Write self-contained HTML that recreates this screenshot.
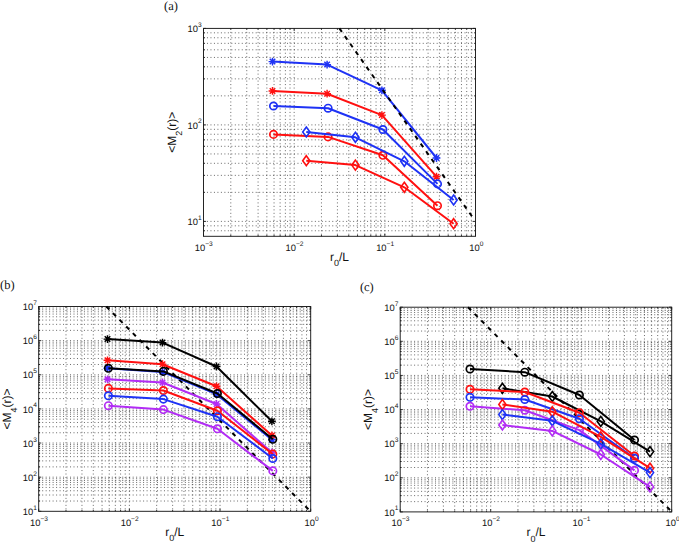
<!DOCTYPE html>
<html><head><meta charset="utf-8"><style>
html,body{margin:0;padding:0;background:#fff;}
body{width:679px;height:544px;overflow:hidden;}
svg{display:block;}
</style></head><body>
<svg width="679" height="544" viewBox="0 0 679 544">
<rect width="679" height="544" fill="#fff"/>
<g font-family="'Liberation Sans', sans-serif" fill="#111" text-rendering="geometricPrecision">
<g stroke="#2a2a2a" stroke-width="0.7" stroke-dasharray="1 2.48" fill="none"><line x1="230.79" y1="28.4" x2="230.79" y2="236.3"/><line x1="246.76" y1="28.4" x2="246.76" y2="236.3"/><line x1="258.09" y1="28.4" x2="258.09" y2="236.3"/><line x1="266.87" y1="28.4" x2="266.87" y2="236.3"/><line x1="274.05" y1="28.4" x2="274.05" y2="236.3"/><line x1="280.12" y1="28.4" x2="280.12" y2="236.3"/><line x1="285.38" y1="28.4" x2="285.38" y2="236.3"/><line x1="290.02" y1="28.4" x2="290.02" y2="236.3"/><line x1="294.17" y1="28.4" x2="294.17" y2="236.3"/><line x1="321.46" y1="28.4" x2="321.46" y2="236.3"/><line x1="337.43" y1="28.4" x2="337.43" y2="236.3"/><line x1="348.75" y1="28.4" x2="348.75" y2="236.3"/><line x1="357.54" y1="28.4" x2="357.54" y2="236.3"/><line x1="364.72" y1="28.4" x2="364.72" y2="236.3"/><line x1="370.79" y1="28.4" x2="370.79" y2="236.3"/><line x1="376.05" y1="28.4" x2="376.05" y2="236.3"/><line x1="380.68" y1="28.4" x2="380.68" y2="236.3"/><line x1="384.83" y1="28.4" x2="384.83" y2="236.3"/><line x1="412.13" y1="28.4" x2="412.13" y2="236.3"/><line x1="428.09" y1="28.4" x2="428.09" y2="236.3"/><line x1="439.42" y1="28.4" x2="439.42" y2="236.3"/><line x1="448.21" y1="28.4" x2="448.21" y2="236.3"/><line x1="455.39" y1="28.4" x2="455.39" y2="236.3"/><line x1="461.46" y1="28.4" x2="461.46" y2="236.3"/><line x1="466.71" y1="28.4" x2="466.71" y2="236.3"/><line x1="471.35" y1="28.4" x2="471.35" y2="236.3"/><line x1="203.5" y1="230.75" x2="475.5" y2="230.75"/><line x1="203.5" y1="225.82" x2="475.5" y2="225.82"/><line x1="203.5" y1="221.4" x2="475.5" y2="221.4"/><line x1="203.5" y1="192.35" x2="475.5" y2="192.35"/><line x1="203.5" y1="175.36" x2="475.5" y2="175.36"/><line x1="203.5" y1="163.3" x2="475.5" y2="163.3"/><line x1="203.5" y1="153.95" x2="475.5" y2="153.95"/><line x1="203.5" y1="146.31" x2="475.5" y2="146.31"/><line x1="203.5" y1="139.85" x2="475.5" y2="139.85"/><line x1="203.5" y1="134.25" x2="475.5" y2="134.25"/><line x1="203.5" y1="129.32" x2="475.5" y2="129.32"/><line x1="203.5" y1="124.9" x2="475.5" y2="124.9"/><line x1="203.5" y1="95.85" x2="475.5" y2="95.85"/><line x1="203.5" y1="78.86" x2="475.5" y2="78.86"/><line x1="203.5" y1="66.8" x2="475.5" y2="66.8"/><line x1="203.5" y1="57.45" x2="475.5" y2="57.45"/><line x1="203.5" y1="49.81" x2="475.5" y2="49.81"/><line x1="203.5" y1="43.35" x2="475.5" y2="43.35"/><line x1="203.5" y1="37.75" x2="475.5" y2="37.75"/><line x1="203.5" y1="32.82" x2="475.5" y2="32.82"/></g>
<path d="M203.5 236.3v-2.6M203.5 28.4v2.6M230.79 236.3v-1.4M230.79 28.4v1.4M246.76 236.3v-1.4M246.76 28.4v1.4M258.09 236.3v-1.4M258.09 28.4v1.4M266.87 236.3v-1.4M266.87 28.4v1.4M274.05 236.3v-1.4M274.05 28.4v1.4M280.12 236.3v-1.4M280.12 28.4v1.4M285.38 236.3v-1.4M285.38 28.4v1.4M290.02 236.3v-1.4M290.02 28.4v1.4M294.17 236.3v-2.6M294.17 28.4v2.6M321.46 236.3v-1.4M321.46 28.4v1.4M337.43 236.3v-1.4M337.43 28.4v1.4M348.75 236.3v-1.4M348.75 28.4v1.4M357.54 236.3v-1.4M357.54 28.4v1.4M364.72 236.3v-1.4M364.72 28.4v1.4M370.79 236.3v-1.4M370.79 28.4v1.4M376.05 236.3v-1.4M376.05 28.4v1.4M380.68 236.3v-1.4M380.68 28.4v1.4M384.83 236.3v-2.6M384.83 28.4v2.6M412.13 236.3v-1.4M412.13 28.4v1.4M428.09 236.3v-1.4M428.09 28.4v1.4M439.42 236.3v-1.4M439.42 28.4v1.4M448.21 236.3v-1.4M448.21 28.4v1.4M455.39 236.3v-1.4M455.39 28.4v1.4M461.46 236.3v-1.4M461.46 28.4v1.4M466.71 236.3v-1.4M466.71 28.4v1.4M471.35 236.3v-1.4M471.35 28.4v1.4M475.5 236.3v-2.6M475.5 28.4v2.6M203.5 230.75h1.4M475.5 230.75h-1.4M203.5 225.82h1.4M475.5 225.82h-1.4M203.5 221.4h2.6M475.5 221.4h-2.6M203.5 192.35h1.4M475.5 192.35h-1.4M203.5 175.36h1.4M475.5 175.36h-1.4M203.5 163.3h1.4M475.5 163.3h-1.4M203.5 153.95h1.4M475.5 153.95h-1.4M203.5 146.31h1.4M475.5 146.31h-1.4M203.5 139.85h1.4M475.5 139.85h-1.4M203.5 134.25h1.4M475.5 134.25h-1.4M203.5 129.32h1.4M475.5 129.32h-1.4M203.5 124.9h2.6M475.5 124.9h-2.6M203.5 95.85h1.4M475.5 95.85h-1.4M203.5 78.86h1.4M475.5 78.86h-1.4M203.5 66.8h1.4M475.5 66.8h-1.4M203.5 57.45h1.4M475.5 57.45h-1.4M203.5 49.81h1.4M475.5 49.81h-1.4M203.5 43.35h1.4M475.5 43.35h-1.4M203.5 37.75h1.4M475.5 37.75h-1.4M203.5 32.82h1.4M475.5 32.82h-1.4M203.5 28.4h2.6M475.5 28.4h-2.6" stroke="#000" stroke-width="0.8" fill="none"/>
<rect x="203.5" y="28.4" width="272" height="207.9" fill="none" stroke="#1a1a1a" stroke-width="0.95"/>
<text x="203.8" y="250.6" text-anchor="middle" font-size="9.4">10<tspan dy="-5.0" font-size="6.6">&#8722;3</tspan></text>
<text x="294.47" y="250.6" text-anchor="middle" font-size="9.4">10<tspan dy="-5.0" font-size="6.6">&#8722;2</tspan></text>
<text x="385.13" y="250.6" text-anchor="middle" font-size="9.4">10<tspan dy="-5.0" font-size="6.6">&#8722;1</tspan></text>
<text x="476.4" y="250.6" text-anchor="middle" font-size="9.4">10<tspan dy="-5.0" font-size="6.6">0</tspan></text>
<text x="201.6" y="225.1" text-anchor="end" font-size="9.4">10<tspan dy="-5.2" font-size="6.6">1</tspan></text>
<text x="201.6" y="128.6" text-anchor="end" font-size="9.4">10<tspan dy="-5.2" font-size="6.6">2</tspan></text>
<text x="201.6" y="32.1" text-anchor="end" font-size="9.4">10<tspan dy="-5.2" font-size="6.6">3</tspan></text>
<text x="339.5" y="260.6" text-anchor="middle" font-size="12">r<tspan dy="5.4" font-size="9">0</tspan><tspan dy="-5.4">/L</tspan></text>
<text transform="translate(175.6 132.35) rotate(-90)" text-anchor="middle" font-size="12">&lt;M<tspan dy="6" font-size="9">2</tspan><tspan dy="-6">(r)&gt;</tspan></text>
<polyline points="272.5,61.6 327.1,64.6 381.9,90.3 436.5,158" stroke="#1e32f5" stroke-width="2.0" fill="none" stroke-linejoin="round"/>
<path d="M268.6 61.6L276.4 61.6M269.74 58.84L275.26 64.36M272.5 57.7L272.5 65.5M275.26 58.84L269.74 64.36" stroke="#1e32f5" stroke-width="1.45" fill="none"/>
<path d="M323.2 64.6L331 64.6M324.34 61.84L329.86 67.36M327.1 60.7L327.1 68.5M329.86 61.84L324.34 67.36" stroke="#1e32f5" stroke-width="1.45" fill="none"/>
<path d="M378 90.3L385.8 90.3M379.14 87.54L384.66 93.06M381.9 86.4L381.9 94.2M384.66 87.54L379.14 93.06" stroke="#1e32f5" stroke-width="1.45" fill="none"/>
<path d="M432.6 158L440.4 158M433.74 155.24L439.26 160.76M436.5 154.1L436.5 161.9M439.26 155.24L433.74 160.76" stroke="#1e32f5" stroke-width="1.45" fill="none"/>
<polyline points="272.5,90.9 327.1,93.7 381.9,115.1 436.5,176.7" stroke="#ff1010" stroke-width="2.0" fill="none" stroke-linejoin="round"/>
<path d="M268.6 90.9L276.4 90.9M269.74 88.14L275.26 93.66M272.5 87L272.5 94.8M275.26 88.14L269.74 93.66" stroke="#ff1010" stroke-width="1.45" fill="none"/>
<path d="M323.2 93.7L331 93.7M324.34 90.94L329.86 96.46M327.1 89.8L327.1 97.6M329.86 90.94L324.34 96.46" stroke="#ff1010" stroke-width="1.45" fill="none"/>
<path d="M378 115.1L385.8 115.1M379.14 112.34L384.66 117.86M381.9 111.2L381.9 119M384.66 112.34L379.14 117.86" stroke="#ff1010" stroke-width="1.45" fill="none"/>
<path d="M432.6 176.7L440.4 176.7M433.74 173.94L439.26 179.46M436.5 172.8L436.5 180.6M439.26 173.94L433.74 179.46" stroke="#ff1010" stroke-width="1.45" fill="none"/>
<polyline points="273.5,106 328.1,108.2 382.9,129.5 437.5,183.9" stroke="#1e32f5" stroke-width="2.0" fill="none" stroke-linejoin="round"/>
<circle cx="273.5" cy="106" r="3.7" stroke="#1e32f5" stroke-width="1.7" fill="none"/>
<circle cx="328.1" cy="108.2" r="3.7" stroke="#1e32f5" stroke-width="1.7" fill="none"/>
<circle cx="382.9" cy="129.5" r="3.7" stroke="#1e32f5" stroke-width="1.7" fill="none"/>
<circle cx="437.5" cy="183.9" r="3.7" stroke="#1e32f5" stroke-width="1.7" fill="none"/>
<polyline points="273.5,134.4 328.1,136.9 382.9,155.3 437.5,205.7" stroke="#ff1010" stroke-width="2.0" fill="none" stroke-linejoin="round"/>
<circle cx="273.5" cy="134.4" r="3.7" stroke="#ff1010" stroke-width="1.7" fill="none"/>
<circle cx="328.1" cy="136.9" r="3.7" stroke="#ff1010" stroke-width="1.7" fill="none"/>
<circle cx="382.9" cy="155.3" r="3.7" stroke="#ff1010" stroke-width="1.7" fill="none"/>
<circle cx="437.5" cy="205.7" r="3.7" stroke="#ff1010" stroke-width="1.7" fill="none"/>
<polyline points="306.3,132 355.4,137.3 404.3,161.3 453.6,200" stroke="#1e32f5" stroke-width="2.0" fill="none" stroke-linejoin="round"/>
<path d="M306.3 127L309.9 132L306.3 137L302.7 132Z" stroke="#1e32f5" stroke-width="1.6" fill="none" stroke-linejoin="miter"/>
<path d="M355.4 132.3L359 137.3L355.4 142.3L351.8 137.3Z" stroke="#1e32f5" stroke-width="1.6" fill="none" stroke-linejoin="miter"/>
<path d="M404.3 156.3L407.9 161.3L404.3 166.3L400.7 161.3Z" stroke="#1e32f5" stroke-width="1.6" fill="none" stroke-linejoin="miter"/>
<path d="M453.6 195L457.2 200L453.6 205L450 200Z" stroke="#1e32f5" stroke-width="1.6" fill="none" stroke-linejoin="miter"/>
<polyline points="306.3,160.7 355.4,165.1 404.3,187.3 453.6,223.7" stroke="#ff1010" stroke-width="2.0" fill="none" stroke-linejoin="round"/>
<path d="M306.3 155.7L309.9 160.7L306.3 165.7L302.7 160.7Z" stroke="#ff1010" stroke-width="1.6" fill="none" stroke-linejoin="miter"/>
<path d="M355.4 160.1L359 165.1L355.4 170.1L351.8 165.1Z" stroke="#ff1010" stroke-width="1.6" fill="none" stroke-linejoin="miter"/>
<path d="M404.3 182.3L407.9 187.3L404.3 192.3L400.7 187.3Z" stroke="#ff1010" stroke-width="1.6" fill="none" stroke-linejoin="miter"/>
<path d="M453.6 218.7L457.2 223.7L453.6 228.7L450 223.7Z" stroke="#ff1010" stroke-width="1.6" fill="none" stroke-linejoin="miter"/>
<line x1="339.4" y1="28.4" x2="472.1" y2="216.5" stroke="#000" stroke-width="2" stroke-dasharray="4.3 5.1"/>
<g stroke="#2a2a2a" stroke-width="0.7" stroke-dasharray="1 2.48" fill="none"><line x1="65.99" y1="306.5" x2="65.99" y2="511.3"/><line x1="81.96" y1="306.5" x2="81.96" y2="511.3"/><line x1="93.29" y1="306.5" x2="93.29" y2="511.3"/><line x1="102.07" y1="306.5" x2="102.07" y2="511.3"/><line x1="109.25" y1="306.5" x2="109.25" y2="511.3"/><line x1="115.32" y1="306.5" x2="115.32" y2="511.3"/><line x1="120.58" y1="306.5" x2="120.58" y2="511.3"/><line x1="125.22" y1="306.5" x2="125.22" y2="511.3"/><line x1="129.37" y1="306.5" x2="129.37" y2="511.3"/><line x1="156.66" y1="306.5" x2="156.66" y2="511.3"/><line x1="172.63" y1="306.5" x2="172.63" y2="511.3"/><line x1="183.95" y1="306.5" x2="183.95" y2="511.3"/><line x1="192.74" y1="306.5" x2="192.74" y2="511.3"/><line x1="199.92" y1="306.5" x2="199.92" y2="511.3"/><line x1="205.99" y1="306.5" x2="205.99" y2="511.3"/><line x1="211.25" y1="306.5" x2="211.25" y2="511.3"/><line x1="215.88" y1="306.5" x2="215.88" y2="511.3"/><line x1="220.03" y1="306.5" x2="220.03" y2="511.3"/><line x1="247.33" y1="306.5" x2="247.33" y2="511.3"/><line x1="263.29" y1="306.5" x2="263.29" y2="511.3"/><line x1="274.62" y1="306.5" x2="274.62" y2="511.3"/><line x1="283.41" y1="306.5" x2="283.41" y2="511.3"/><line x1="290.59" y1="306.5" x2="290.59" y2="511.3"/><line x1="296.66" y1="306.5" x2="296.66" y2="511.3"/><line x1="301.91" y1="306.5" x2="301.91" y2="511.3"/><line x1="306.55" y1="306.5" x2="306.55" y2="511.3"/><line x1="38.7" y1="501.02" x2="310.7" y2="501.02"/><line x1="38.7" y1="495.01" x2="310.7" y2="495.01"/><line x1="38.7" y1="490.75" x2="310.7" y2="490.75"/><line x1="38.7" y1="487.44" x2="310.7" y2="487.44"/><line x1="38.7" y1="484.74" x2="310.7" y2="484.74"/><line x1="38.7" y1="482.45" x2="310.7" y2="482.45"/><line x1="38.7" y1="480.47" x2="310.7" y2="480.47"/><line x1="38.7" y1="478.73" x2="310.7" y2="478.73"/><line x1="38.7" y1="477.17" x2="310.7" y2="477.17"/><line x1="38.7" y1="466.89" x2="310.7" y2="466.89"/><line x1="38.7" y1="460.88" x2="310.7" y2="460.88"/><line x1="38.7" y1="456.62" x2="310.7" y2="456.62"/><line x1="38.7" y1="453.31" x2="310.7" y2="453.31"/><line x1="38.7" y1="450.61" x2="310.7" y2="450.61"/><line x1="38.7" y1="448.32" x2="310.7" y2="448.32"/><line x1="38.7" y1="446.34" x2="310.7" y2="446.34"/><line x1="38.7" y1="444.6" x2="310.7" y2="444.6"/><line x1="38.7" y1="443.03" x2="310.7" y2="443.03"/><line x1="38.7" y1="432.76" x2="310.7" y2="432.76"/><line x1="38.7" y1="426.75" x2="310.7" y2="426.75"/><line x1="38.7" y1="422.48" x2="310.7" y2="422.48"/><line x1="38.7" y1="419.18" x2="310.7" y2="419.18"/><line x1="38.7" y1="416.47" x2="310.7" y2="416.47"/><line x1="38.7" y1="414.19" x2="310.7" y2="414.19"/><line x1="38.7" y1="412.21" x2="310.7" y2="412.21"/><line x1="38.7" y1="410.46" x2="310.7" y2="410.46"/><line x1="38.7" y1="408.9" x2="310.7" y2="408.9"/><line x1="38.7" y1="398.62" x2="310.7" y2="398.62"/><line x1="38.7" y1="392.61" x2="310.7" y2="392.61"/><line x1="38.7" y1="388.35" x2="310.7" y2="388.35"/><line x1="38.7" y1="385.04" x2="310.7" y2="385.04"/><line x1="38.7" y1="382.34" x2="310.7" y2="382.34"/><line x1="38.7" y1="380.05" x2="310.7" y2="380.05"/><line x1="38.7" y1="378.07" x2="310.7" y2="378.07"/><line x1="38.7" y1="376.33" x2="310.7" y2="376.33"/><line x1="38.7" y1="374.77" x2="310.7" y2="374.77"/><line x1="38.7" y1="364.49" x2="310.7" y2="364.49"/><line x1="38.7" y1="358.48" x2="310.7" y2="358.48"/><line x1="38.7" y1="354.22" x2="310.7" y2="354.22"/><line x1="38.7" y1="350.91" x2="310.7" y2="350.91"/><line x1="38.7" y1="348.21" x2="310.7" y2="348.21"/><line x1="38.7" y1="345.92" x2="310.7" y2="345.92"/><line x1="38.7" y1="343.94" x2="310.7" y2="343.94"/><line x1="38.7" y1="342.2" x2="310.7" y2="342.2"/><line x1="38.7" y1="340.63" x2="310.7" y2="340.63"/><line x1="38.7" y1="330.36" x2="310.7" y2="330.36"/><line x1="38.7" y1="324.35" x2="310.7" y2="324.35"/><line x1="38.7" y1="320.08" x2="310.7" y2="320.08"/><line x1="38.7" y1="316.78" x2="310.7" y2="316.78"/><line x1="38.7" y1="314.07" x2="310.7" y2="314.07"/><line x1="38.7" y1="311.79" x2="310.7" y2="311.79"/><line x1="38.7" y1="309.81" x2="310.7" y2="309.81"/><line x1="38.7" y1="308.06" x2="310.7" y2="308.06"/></g>
<path d="M38.7 511.3v-2.6M38.7 306.5v2.6M65.99 511.3v-1.4M65.99 306.5v1.4M81.96 511.3v-1.4M81.96 306.5v1.4M93.29 511.3v-1.4M93.29 306.5v1.4M102.07 511.3v-1.4M102.07 306.5v1.4M109.25 511.3v-1.4M109.25 306.5v1.4M115.32 511.3v-1.4M115.32 306.5v1.4M120.58 511.3v-1.4M120.58 306.5v1.4M125.22 511.3v-1.4M125.22 306.5v1.4M129.37 511.3v-2.6M129.37 306.5v2.6M156.66 511.3v-1.4M156.66 306.5v1.4M172.63 511.3v-1.4M172.63 306.5v1.4M183.95 511.3v-1.4M183.95 306.5v1.4M192.74 511.3v-1.4M192.74 306.5v1.4M199.92 511.3v-1.4M199.92 306.5v1.4M205.99 511.3v-1.4M205.99 306.5v1.4M211.25 511.3v-1.4M211.25 306.5v1.4M215.88 511.3v-1.4M215.88 306.5v1.4M220.03 511.3v-2.6M220.03 306.5v2.6M247.33 511.3v-1.4M247.33 306.5v1.4M263.29 511.3v-1.4M263.29 306.5v1.4M274.62 511.3v-1.4M274.62 306.5v1.4M283.41 511.3v-1.4M283.41 306.5v1.4M290.59 511.3v-1.4M290.59 306.5v1.4M296.66 511.3v-1.4M296.66 306.5v1.4M301.91 511.3v-1.4M301.91 306.5v1.4M306.55 511.3v-1.4M306.55 306.5v1.4M310.7 511.3v-2.6M310.7 306.5v2.6M38.7 511.3h2.6M310.7 511.3h-2.6M38.7 501.02h1.4M310.7 501.02h-1.4M38.7 495.01h1.4M310.7 495.01h-1.4M38.7 490.75h1.4M310.7 490.75h-1.4M38.7 487.44h1.4M310.7 487.44h-1.4M38.7 484.74h1.4M310.7 484.74h-1.4M38.7 482.45h1.4M310.7 482.45h-1.4M38.7 480.47h1.4M310.7 480.47h-1.4M38.7 478.73h1.4M310.7 478.73h-1.4M38.7 477.17h2.6M310.7 477.17h-2.6M38.7 466.89h1.4M310.7 466.89h-1.4M38.7 460.88h1.4M310.7 460.88h-1.4M38.7 456.62h1.4M310.7 456.62h-1.4M38.7 453.31h1.4M310.7 453.31h-1.4M38.7 450.61h1.4M310.7 450.61h-1.4M38.7 448.32h1.4M310.7 448.32h-1.4M38.7 446.34h1.4M310.7 446.34h-1.4M38.7 444.6h1.4M310.7 444.6h-1.4M38.7 443.03h2.6M310.7 443.03h-2.6M38.7 432.76h1.4M310.7 432.76h-1.4M38.7 426.75h1.4M310.7 426.75h-1.4M38.7 422.48h1.4M310.7 422.48h-1.4M38.7 419.18h1.4M310.7 419.18h-1.4M38.7 416.47h1.4M310.7 416.47h-1.4M38.7 414.19h1.4M310.7 414.19h-1.4M38.7 412.21h1.4M310.7 412.21h-1.4M38.7 410.46h1.4M310.7 410.46h-1.4M38.7 408.9h2.6M310.7 408.9h-2.6M38.7 398.62h1.4M310.7 398.62h-1.4M38.7 392.61h1.4M310.7 392.61h-1.4M38.7 388.35h1.4M310.7 388.35h-1.4M38.7 385.04h1.4M310.7 385.04h-1.4M38.7 382.34h1.4M310.7 382.34h-1.4M38.7 380.05h1.4M310.7 380.05h-1.4M38.7 378.07h1.4M310.7 378.07h-1.4M38.7 376.33h1.4M310.7 376.33h-1.4M38.7 374.77h2.6M310.7 374.77h-2.6M38.7 364.49h1.4M310.7 364.49h-1.4M38.7 358.48h1.4M310.7 358.48h-1.4M38.7 354.22h1.4M310.7 354.22h-1.4M38.7 350.91h1.4M310.7 350.91h-1.4M38.7 348.21h1.4M310.7 348.21h-1.4M38.7 345.92h1.4M310.7 345.92h-1.4M38.7 343.94h1.4M310.7 343.94h-1.4M38.7 342.2h1.4M310.7 342.2h-1.4M38.7 340.63h2.6M310.7 340.63h-2.6M38.7 330.36h1.4M310.7 330.36h-1.4M38.7 324.35h1.4M310.7 324.35h-1.4M38.7 320.08h1.4M310.7 320.08h-1.4M38.7 316.78h1.4M310.7 316.78h-1.4M38.7 314.07h1.4M310.7 314.07h-1.4M38.7 311.79h1.4M310.7 311.79h-1.4M38.7 309.81h1.4M310.7 309.81h-1.4M38.7 308.06h1.4M310.7 308.06h-1.4M38.7 306.5h2.6M310.7 306.5h-2.6" stroke="#000" stroke-width="0.8" fill="none"/>
<rect x="38.7" y="306.5" width="272" height="204.8" fill="none" stroke="#1a1a1a" stroke-width="0.95"/>
<text x="39" y="525.6" text-anchor="middle" font-size="9.4">10<tspan dy="-5.0" font-size="6.6">&#8722;3</tspan></text>
<text x="129.67" y="525.6" text-anchor="middle" font-size="9.4">10<tspan dy="-5.0" font-size="6.6">&#8722;2</tspan></text>
<text x="220.33" y="525.6" text-anchor="middle" font-size="9.4">10<tspan dy="-5.0" font-size="6.6">&#8722;1</tspan></text>
<text x="311.6" y="525.6" text-anchor="middle" font-size="9.4">10<tspan dy="-5.0" font-size="6.6">0</tspan></text>
<text x="36.8" y="515" text-anchor="end" font-size="9.4">10<tspan dy="-5.2" font-size="6.6">1</tspan></text>
<text x="36.8" y="480.87" text-anchor="end" font-size="9.4">10<tspan dy="-5.2" font-size="6.6">2</tspan></text>
<text x="36.8" y="446.73" text-anchor="end" font-size="9.4">10<tspan dy="-5.2" font-size="6.6">3</tspan></text>
<text x="36.8" y="412.6" text-anchor="end" font-size="9.4">10<tspan dy="-5.2" font-size="6.6">4</tspan></text>
<text x="36.8" y="378.47" text-anchor="end" font-size="9.4">10<tspan dy="-5.2" font-size="6.6">5</tspan></text>
<text x="36.8" y="344.33" text-anchor="end" font-size="9.4">10<tspan dy="-5.2" font-size="6.6">6</tspan></text>
<text x="36.8" y="310.2" text-anchor="end" font-size="9.4">10<tspan dy="-5.2" font-size="6.6">7</tspan></text>
<text x="174.7" y="535.6" text-anchor="middle" font-size="12">r<tspan dy="5.4" font-size="9">0</tspan><tspan dy="-5.4">/L</tspan></text>
<text transform="translate(10.8 408.9) rotate(-90)" text-anchor="middle" font-size="12">&lt;M<tspan dy="6" font-size="9">4</tspan><tspan dy="-6">(r)&gt;</tspan></text>
<line x1="106.3" y1="306.5" x2="308.9" y2="509.8" stroke="#000" stroke-width="2" stroke-dasharray="4.3 5.1"/>
<polyline points="107.5,368.3 162.5,371.9 216.5,394.2 271.9,439.7" stroke="#1e32f5" stroke-width="2.0" fill="none" stroke-linejoin="round"/>
<path d="M103.6 368.3L111.4 368.3M104.74 365.54L110.26 371.06M107.5 364.4L107.5 372.2M110.26 365.54L104.74 371.06" stroke="#1e32f5" stroke-width="1.45" fill="none"/>
<path d="M158.6 371.9L166.4 371.9M159.74 369.14L165.26 374.66M162.5 368L162.5 375.8M165.26 369.14L159.74 374.66" stroke="#1e32f5" stroke-width="1.45" fill="none"/>
<path d="M212.6 394.2L220.4 394.2M213.74 391.44L219.26 396.96M216.5 390.3L216.5 398.1M219.26 391.44L213.74 396.96" stroke="#1e32f5" stroke-width="1.45" fill="none"/>
<path d="M268 439.7L275.8 439.7M269.14 436.94L274.66 442.46M271.9 435.8L271.9 443.6M274.66 436.94L269.14 442.46" stroke="#1e32f5" stroke-width="1.45" fill="none"/>
<polyline points="107.5,339.1 162.5,342.6 216.5,366.5 271.9,421.3" stroke="#000" stroke-width="2.0" fill="none" stroke-linejoin="round"/>
<path d="M103.6 339.1L111.4 339.1M104.74 336.34L110.26 341.86M107.5 335.2L107.5 343M110.26 336.34L104.74 341.86" stroke="#000" stroke-width="1.45" fill="none"/>
<path d="M158.6 342.6L166.4 342.6M159.74 339.84L165.26 345.36M162.5 338.7L162.5 346.5M165.26 339.84L159.74 345.36" stroke="#000" stroke-width="1.45" fill="none"/>
<path d="M212.6 366.5L220.4 366.5M213.74 363.74L219.26 369.26M216.5 362.6L216.5 370.4M219.26 363.74L213.74 369.26" stroke="#000" stroke-width="1.45" fill="none"/>
<path d="M268 421.3L275.8 421.3M269.14 418.54L274.66 424.06M271.9 417.4L271.9 425.2M274.66 418.54L269.14 424.06" stroke="#000" stroke-width="1.45" fill="none"/>
<polyline points="107.5,360.3 162.5,364.2 216.5,386.3 271.9,435.5" stroke="#ff1010" stroke-width="2.0" fill="none" stroke-linejoin="round"/>
<path d="M103.6 360.3L111.4 360.3M104.74 357.54L110.26 363.06M107.5 356.4L107.5 364.2M110.26 357.54L104.74 363.06" stroke="#ff1010" stroke-width="1.45" fill="none"/>
<path d="M158.6 364.2L166.4 364.2M159.74 361.44L165.26 366.96M162.5 360.3L162.5 368.1M165.26 361.44L159.74 366.96" stroke="#ff1010" stroke-width="1.45" fill="none"/>
<path d="M212.6 386.3L220.4 386.3M213.74 383.54L219.26 389.06M216.5 382.4L216.5 390.2M219.26 383.54L213.74 389.06" stroke="#ff1010" stroke-width="1.45" fill="none"/>
<path d="M268 435.5L275.8 435.5M269.14 432.74L274.66 438.26M271.9 431.6L271.9 439.4M274.66 432.74L269.14 438.26" stroke="#ff1010" stroke-width="1.45" fill="none"/>
<polyline points="107.5,379.3 162.5,382.5 216.5,404 271.9,452.5" stroke="#b22cf5" stroke-width="2.0" fill="none" stroke-linejoin="round"/>
<path d="M103.6 379.3L111.4 379.3M104.74 376.54L110.26 382.06M107.5 375.4L107.5 383.2M110.26 376.54L104.74 382.06" stroke="#b22cf5" stroke-width="1.45" fill="none"/>
<path d="M158.6 382.5L166.4 382.5M159.74 379.74L165.26 385.26M162.5 378.6L162.5 386.4M165.26 379.74L159.74 385.26" stroke="#b22cf5" stroke-width="1.45" fill="none"/>
<path d="M212.6 404L220.4 404M213.74 401.24L219.26 406.76M216.5 400.1L216.5 407.9M219.26 401.24L213.74 406.76" stroke="#b22cf5" stroke-width="1.45" fill="none"/>
<path d="M268 452.5L275.8 452.5M269.14 449.74L274.66 455.26M271.9 448.6L271.9 456.4M274.66 449.74L269.14 455.26" stroke="#b22cf5" stroke-width="1.45" fill="none"/>
<polyline points="108.4,368.3 163.4,371.4 217.4,393.5 272.8,439.3" stroke="#000" stroke-width="2.0" fill="none" stroke-linejoin="round"/>
<circle cx="108.4" cy="368.3" r="3.7" stroke="#000" stroke-width="1.7" fill="none"/>
<circle cx="163.4" cy="371.4" r="3.7" stroke="#000" stroke-width="1.7" fill="none"/>
<circle cx="217.4" cy="393.5" r="3.7" stroke="#000" stroke-width="1.7" fill="none"/>
<circle cx="272.8" cy="439.3" r="3.7" stroke="#000" stroke-width="1.7" fill="none"/>
<polyline points="108.4,388.4 163.4,390.5 217.4,410.8 272.8,454.1" stroke="#ff1010" stroke-width="2.0" fill="none" stroke-linejoin="round"/>
<circle cx="108.4" cy="388.4" r="3.7" stroke="#ff1010" stroke-width="1.7" fill="none"/>
<circle cx="163.4" cy="390.5" r="3.7" stroke="#ff1010" stroke-width="1.7" fill="none"/>
<circle cx="217.4" cy="410.8" r="3.7" stroke="#ff1010" stroke-width="1.7" fill="none"/>
<circle cx="272.8" cy="454.1" r="3.7" stroke="#ff1010" stroke-width="1.7" fill="none"/>
<polyline points="108.4,395.8 163.4,399.1 217.4,416.7 272.8,458.5" stroke="#1e32f5" stroke-width="2.0" fill="none" stroke-linejoin="round"/>
<circle cx="108.4" cy="395.8" r="3.7" stroke="#1e32f5" stroke-width="1.7" fill="none"/>
<circle cx="163.4" cy="399.1" r="3.7" stroke="#1e32f5" stroke-width="1.7" fill="none"/>
<circle cx="217.4" cy="416.7" r="3.7" stroke="#1e32f5" stroke-width="1.7" fill="none"/>
<circle cx="272.8" cy="458.5" r="3.7" stroke="#1e32f5" stroke-width="1.7" fill="none"/>
<polyline points="108.4,405.7 163.4,409.6 217.4,428.8 272.8,470.9" stroke="#b22cf5" stroke-width="2.0" fill="none" stroke-linejoin="round"/>
<circle cx="108.4" cy="405.7" r="3.7" stroke="#b22cf5" stroke-width="1.7" fill="none"/>
<circle cx="163.4" cy="409.6" r="3.7" stroke="#b22cf5" stroke-width="1.7" fill="none"/>
<circle cx="217.4" cy="428.8" r="3.7" stroke="#b22cf5" stroke-width="1.7" fill="none"/>
<circle cx="272.8" cy="470.9" r="3.7" stroke="#b22cf5" stroke-width="1.7" fill="none"/>
<g stroke="#2a2a2a" stroke-width="0.7" stroke-dasharray="1 2.48" fill="none"><line x1="427.44" y1="307.2" x2="427.44" y2="511.9"/><line x1="443.38" y1="307.2" x2="443.38" y2="511.9"/><line x1="454.69" y1="307.2" x2="454.69" y2="511.9"/><line x1="463.46" y1="307.2" x2="463.46" y2="511.9"/><line x1="470.62" y1="307.2" x2="470.62" y2="511.9"/><line x1="476.68" y1="307.2" x2="476.68" y2="511.9"/><line x1="481.93" y1="307.2" x2="481.93" y2="511.9"/><line x1="486.56" y1="307.2" x2="486.56" y2="511.9"/><line x1="490.7" y1="307.2" x2="490.7" y2="511.9"/><line x1="517.94" y1="307.2" x2="517.94" y2="511.9"/><line x1="533.88" y1="307.2" x2="533.88" y2="511.9"/><line x1="545.19" y1="307.2" x2="545.19" y2="511.9"/><line x1="553.96" y1="307.2" x2="553.96" y2="511.9"/><line x1="561.12" y1="307.2" x2="561.12" y2="511.9"/><line x1="567.18" y1="307.2" x2="567.18" y2="511.9"/><line x1="572.43" y1="307.2" x2="572.43" y2="511.9"/><line x1="577.06" y1="307.2" x2="577.06" y2="511.9"/><line x1="581.2" y1="307.2" x2="581.2" y2="511.9"/><line x1="608.44" y1="307.2" x2="608.44" y2="511.9"/><line x1="624.38" y1="307.2" x2="624.38" y2="511.9"/><line x1="635.69" y1="307.2" x2="635.69" y2="511.9"/><line x1="644.46" y1="307.2" x2="644.46" y2="511.9"/><line x1="651.62" y1="307.2" x2="651.62" y2="511.9"/><line x1="657.68" y1="307.2" x2="657.68" y2="511.9"/><line x1="662.93" y1="307.2" x2="662.93" y2="511.9"/><line x1="667.56" y1="307.2" x2="667.56" y2="511.9"/><line x1="400.2" y1="501.63" x2="671.7" y2="501.63"/><line x1="400.2" y1="495.62" x2="671.7" y2="495.62"/><line x1="400.2" y1="491.36" x2="671.7" y2="491.36"/><line x1="400.2" y1="488.05" x2="671.7" y2="488.05"/><line x1="400.2" y1="485.35" x2="671.7" y2="485.35"/><line x1="400.2" y1="483.07" x2="671.7" y2="483.07"/><line x1="400.2" y1="481.09" x2="671.7" y2="481.09"/><line x1="400.2" y1="479.34" x2="671.7" y2="479.34"/><line x1="400.2" y1="477.78" x2="671.7" y2="477.78"/><line x1="400.2" y1="467.51" x2="671.7" y2="467.51"/><line x1="400.2" y1="461.51" x2="671.7" y2="461.51"/><line x1="400.2" y1="457.24" x2="671.7" y2="457.24"/><line x1="400.2" y1="453.94" x2="671.7" y2="453.94"/><line x1="400.2" y1="451.24" x2="671.7" y2="451.24"/><line x1="400.2" y1="448.95" x2="671.7" y2="448.95"/><line x1="400.2" y1="446.97" x2="671.7" y2="446.97"/><line x1="400.2" y1="445.23" x2="671.7" y2="445.23"/><line x1="400.2" y1="443.67" x2="671.7" y2="443.67"/><line x1="400.2" y1="433.4" x2="671.7" y2="433.4"/><line x1="400.2" y1="427.39" x2="671.7" y2="427.39"/><line x1="400.2" y1="423.13" x2="671.7" y2="423.13"/><line x1="400.2" y1="419.82" x2="671.7" y2="419.82"/><line x1="400.2" y1="417.12" x2="671.7" y2="417.12"/><line x1="400.2" y1="414.83" x2="671.7" y2="414.83"/><line x1="400.2" y1="412.86" x2="671.7" y2="412.86"/><line x1="400.2" y1="411.11" x2="671.7" y2="411.11"/><line x1="400.2" y1="409.55" x2="671.7" y2="409.55"/><line x1="400.2" y1="399.28" x2="671.7" y2="399.28"/><line x1="400.2" y1="393.27" x2="671.7" y2="393.27"/><line x1="400.2" y1="389.01" x2="671.7" y2="389.01"/><line x1="400.2" y1="385.7" x2="671.7" y2="385.7"/><line x1="400.2" y1="383" x2="671.7" y2="383"/><line x1="400.2" y1="380.72" x2="671.7" y2="380.72"/><line x1="400.2" y1="378.74" x2="671.7" y2="378.74"/><line x1="400.2" y1="376.99" x2="671.7" y2="376.99"/><line x1="400.2" y1="375.43" x2="671.7" y2="375.43"/><line x1="400.2" y1="365.16" x2="671.7" y2="365.16"/><line x1="400.2" y1="359.16" x2="671.7" y2="359.16"/><line x1="400.2" y1="354.89" x2="671.7" y2="354.89"/><line x1="400.2" y1="351.59" x2="671.7" y2="351.59"/><line x1="400.2" y1="348.89" x2="671.7" y2="348.89"/><line x1="400.2" y1="346.6" x2="671.7" y2="346.6"/><line x1="400.2" y1="344.62" x2="671.7" y2="344.62"/><line x1="400.2" y1="342.88" x2="671.7" y2="342.88"/><line x1="400.2" y1="341.32" x2="671.7" y2="341.32"/><line x1="400.2" y1="331.05" x2="671.7" y2="331.05"/><line x1="400.2" y1="325.04" x2="671.7" y2="325.04"/><line x1="400.2" y1="320.78" x2="671.7" y2="320.78"/><line x1="400.2" y1="317.47" x2="671.7" y2="317.47"/><line x1="400.2" y1="314.77" x2="671.7" y2="314.77"/><line x1="400.2" y1="312.48" x2="671.7" y2="312.48"/><line x1="400.2" y1="310.51" x2="671.7" y2="310.51"/><line x1="400.2" y1="308.76" x2="671.7" y2="308.76"/></g>
<path d="M400.2 511.9v-2.6M400.2 307.2v2.6M427.44 511.9v-1.4M427.44 307.2v1.4M443.38 511.9v-1.4M443.38 307.2v1.4M454.69 511.9v-1.4M454.69 307.2v1.4M463.46 511.9v-1.4M463.46 307.2v1.4M470.62 511.9v-1.4M470.62 307.2v1.4M476.68 511.9v-1.4M476.68 307.2v1.4M481.93 511.9v-1.4M481.93 307.2v1.4M486.56 511.9v-1.4M486.56 307.2v1.4M490.7 511.9v-2.6M490.7 307.2v2.6M517.94 511.9v-1.4M517.94 307.2v1.4M533.88 511.9v-1.4M533.88 307.2v1.4M545.19 511.9v-1.4M545.19 307.2v1.4M553.96 511.9v-1.4M553.96 307.2v1.4M561.12 511.9v-1.4M561.12 307.2v1.4M567.18 511.9v-1.4M567.18 307.2v1.4M572.43 511.9v-1.4M572.43 307.2v1.4M577.06 511.9v-1.4M577.06 307.2v1.4M581.2 511.9v-2.6M581.2 307.2v2.6M608.44 511.9v-1.4M608.44 307.2v1.4M624.38 511.9v-1.4M624.38 307.2v1.4M635.69 511.9v-1.4M635.69 307.2v1.4M644.46 511.9v-1.4M644.46 307.2v1.4M651.62 511.9v-1.4M651.62 307.2v1.4M657.68 511.9v-1.4M657.68 307.2v1.4M662.93 511.9v-1.4M662.93 307.2v1.4M667.56 511.9v-1.4M667.56 307.2v1.4M671.7 511.9v-2.6M671.7 307.2v2.6M400.2 511.9h2.6M671.7 511.9h-2.6M400.2 501.63h1.4M671.7 501.63h-1.4M400.2 495.62h1.4M671.7 495.62h-1.4M400.2 491.36h1.4M671.7 491.36h-1.4M400.2 488.05h1.4M671.7 488.05h-1.4M400.2 485.35h1.4M671.7 485.35h-1.4M400.2 483.07h1.4M671.7 483.07h-1.4M400.2 481.09h1.4M671.7 481.09h-1.4M400.2 479.34h1.4M671.7 479.34h-1.4M400.2 477.78h2.6M671.7 477.78h-2.6M400.2 467.51h1.4M671.7 467.51h-1.4M400.2 461.51h1.4M671.7 461.51h-1.4M400.2 457.24h1.4M671.7 457.24h-1.4M400.2 453.94h1.4M671.7 453.94h-1.4M400.2 451.24h1.4M671.7 451.24h-1.4M400.2 448.95h1.4M671.7 448.95h-1.4M400.2 446.97h1.4M671.7 446.97h-1.4M400.2 445.23h1.4M671.7 445.23h-1.4M400.2 443.67h2.6M671.7 443.67h-2.6M400.2 433.4h1.4M671.7 433.4h-1.4M400.2 427.39h1.4M671.7 427.39h-1.4M400.2 423.13h1.4M671.7 423.13h-1.4M400.2 419.82h1.4M671.7 419.82h-1.4M400.2 417.12h1.4M671.7 417.12h-1.4M400.2 414.83h1.4M671.7 414.83h-1.4M400.2 412.86h1.4M671.7 412.86h-1.4M400.2 411.11h1.4M671.7 411.11h-1.4M400.2 409.55h2.6M671.7 409.55h-2.6M400.2 399.28h1.4M671.7 399.28h-1.4M400.2 393.27h1.4M671.7 393.27h-1.4M400.2 389.01h1.4M671.7 389.01h-1.4M400.2 385.7h1.4M671.7 385.7h-1.4M400.2 383h1.4M671.7 383h-1.4M400.2 380.72h1.4M671.7 380.72h-1.4M400.2 378.74h1.4M671.7 378.74h-1.4M400.2 376.99h1.4M671.7 376.99h-1.4M400.2 375.43h2.6M671.7 375.43h-2.6M400.2 365.16h1.4M671.7 365.16h-1.4M400.2 359.16h1.4M671.7 359.16h-1.4M400.2 354.89h1.4M671.7 354.89h-1.4M400.2 351.59h1.4M671.7 351.59h-1.4M400.2 348.89h1.4M671.7 348.89h-1.4M400.2 346.6h1.4M671.7 346.6h-1.4M400.2 344.62h1.4M671.7 344.62h-1.4M400.2 342.88h1.4M671.7 342.88h-1.4M400.2 341.32h2.6M671.7 341.32h-2.6M400.2 331.05h1.4M671.7 331.05h-1.4M400.2 325.04h1.4M671.7 325.04h-1.4M400.2 320.78h1.4M671.7 320.78h-1.4M400.2 317.47h1.4M671.7 317.47h-1.4M400.2 314.77h1.4M671.7 314.77h-1.4M400.2 312.48h1.4M671.7 312.48h-1.4M400.2 310.51h1.4M671.7 310.51h-1.4M400.2 308.76h1.4M671.7 308.76h-1.4M400.2 307.2h2.6M671.7 307.2h-2.6" stroke="#000" stroke-width="0.8" fill="none"/>
<rect x="400.2" y="307.2" width="271.5" height="204.7" fill="none" stroke="#1a1a1a" stroke-width="0.95"/>
<text x="400.5" y="526.2" text-anchor="middle" font-size="9.4">10<tspan dy="-5.0" font-size="6.6">&#8722;3</tspan></text>
<text x="491" y="526.2" text-anchor="middle" font-size="9.4">10<tspan dy="-5.0" font-size="6.6">&#8722;2</tspan></text>
<text x="581.5" y="526.2" text-anchor="middle" font-size="9.4">10<tspan dy="-5.0" font-size="6.6">&#8722;1</tspan></text>
<text x="672.6" y="526.2" text-anchor="middle" font-size="9.4">10<tspan dy="-5.0" font-size="6.6">0</tspan></text>
<text x="398.3" y="515.6" text-anchor="end" font-size="9.4">10<tspan dy="-5.2" font-size="6.6">1</tspan></text>
<text x="398.3" y="481.48" text-anchor="end" font-size="9.4">10<tspan dy="-5.2" font-size="6.6">2</tspan></text>
<text x="398.3" y="447.37" text-anchor="end" font-size="9.4">10<tspan dy="-5.2" font-size="6.6">3</tspan></text>
<text x="398.3" y="413.25" text-anchor="end" font-size="9.4">10<tspan dy="-5.2" font-size="6.6">4</tspan></text>
<text x="398.3" y="379.13" text-anchor="end" font-size="9.4">10<tspan dy="-5.2" font-size="6.6">5</tspan></text>
<text x="398.3" y="345.02" text-anchor="end" font-size="9.4">10<tspan dy="-5.2" font-size="6.6">6</tspan></text>
<text x="398.3" y="310.9" text-anchor="end" font-size="9.4">10<tspan dy="-5.2" font-size="6.6">7</tspan></text>
<text x="535.95" y="536.2" text-anchor="middle" font-size="12">r<tspan dy="5.4" font-size="9">0</tspan><tspan dy="-5.4">/L</tspan></text>
<text transform="translate(372.3 409.55) rotate(-90)" text-anchor="middle" font-size="12">&lt;M<tspan dy="6" font-size="9">4</tspan><tspan dy="-6">(r)&gt;</tspan></text>
<line x1="468" y1="307.2" x2="670.9" y2="510.9" stroke="#000" stroke-width="2" stroke-dasharray="4.3 5.1"/>
<polyline points="470,369 524.8,372.2 579.4,395 634.5,440" stroke="#000" stroke-width="2.0" fill="none" stroke-linejoin="round"/>
<circle cx="470" cy="369" r="3.7" stroke="#000" stroke-width="1.7" fill="none"/>
<circle cx="524.8" cy="372.2" r="3.7" stroke="#000" stroke-width="1.7" fill="none"/>
<circle cx="579.4" cy="395" r="3.7" stroke="#000" stroke-width="1.7" fill="none"/>
<circle cx="634.5" cy="440" r="3.7" stroke="#000" stroke-width="1.7" fill="none"/>
<polyline points="502.4,388.3 552.3,396.5 600.8,421.4 650,451.6" stroke="#000" stroke-width="2.0" fill="none" stroke-linejoin="round"/>
<path d="M502.4 383.3L506 388.3L502.4 393.3L498.8 388.3Z" stroke="#000" stroke-width="1.6" fill="none" stroke-linejoin="miter"/>
<path d="M552.3 391.5L555.9 396.5L552.3 401.5L548.7 396.5Z" stroke="#000" stroke-width="1.6" fill="none" stroke-linejoin="miter"/>
<path d="M600.8 416.4L604.4 421.4L600.8 426.4L597.2 421.4Z" stroke="#000" stroke-width="1.6" fill="none" stroke-linejoin="miter"/>
<path d="M650 446.6L653.6 451.6L650 456.6L646.4 451.6Z" stroke="#000" stroke-width="1.6" fill="none" stroke-linejoin="miter"/>
<polyline points="470,389.3 524.8,392 579.4,412.7 634.5,456" stroke="#ff1010" stroke-width="2.0" fill="none" stroke-linejoin="round"/>
<circle cx="470" cy="389.3" r="3.7" stroke="#ff1010" stroke-width="1.7" fill="none"/>
<circle cx="524.8" cy="392" r="3.7" stroke="#ff1010" stroke-width="1.7" fill="none"/>
<circle cx="579.4" cy="412.7" r="3.7" stroke="#ff1010" stroke-width="1.7" fill="none"/>
<circle cx="634.5" cy="456" r="3.7" stroke="#ff1010" stroke-width="1.7" fill="none"/>
<polyline points="470,397.3 524.8,399.5 579.4,418.7 634.5,458.3" stroke="#1e32f5" stroke-width="2.0" fill="none" stroke-linejoin="round"/>
<circle cx="470" cy="397.3" r="3.7" stroke="#1e32f5" stroke-width="1.7" fill="none"/>
<circle cx="524.8" cy="399.5" r="3.7" stroke="#1e32f5" stroke-width="1.7" fill="none"/>
<circle cx="579.4" cy="418.7" r="3.7" stroke="#1e32f5" stroke-width="1.7" fill="none"/>
<circle cx="634.5" cy="458.3" r="3.7" stroke="#1e32f5" stroke-width="1.7" fill="none"/>
<polyline points="470,406.3 524.8,410.2 579.4,430.1 634.5,470.4" stroke="#b22cf5" stroke-width="2.0" fill="none" stroke-linejoin="round"/>
<circle cx="470" cy="406.3" r="3.7" stroke="#b22cf5" stroke-width="1.7" fill="none"/>
<circle cx="524.8" cy="410.2" r="3.7" stroke="#b22cf5" stroke-width="1.7" fill="none"/>
<circle cx="579.4" cy="430.1" r="3.7" stroke="#b22cf5" stroke-width="1.7" fill="none"/>
<circle cx="634.5" cy="470.4" r="3.7" stroke="#b22cf5" stroke-width="1.7" fill="none"/>
<polyline points="502.4,404.5 552.3,411.7 600.8,436.9 650,468.2" stroke="#ff1010" stroke-width="2.0" fill="none" stroke-linejoin="round"/>
<path d="M502.4 399.5L506 404.5L502.4 409.5L498.8 404.5Z" stroke="#ff1010" stroke-width="1.6" fill="none" stroke-linejoin="miter"/>
<path d="M552.3 406.7L555.9 411.7L552.3 416.7L548.7 411.7Z" stroke="#ff1010" stroke-width="1.6" fill="none" stroke-linejoin="miter"/>
<path d="M600.8 431.9L604.4 436.9L600.8 441.9L597.2 436.9Z" stroke="#ff1010" stroke-width="1.6" fill="none" stroke-linejoin="miter"/>
<path d="M650 463.2L653.6 468.2L650 473.2L646.4 468.2Z" stroke="#ff1010" stroke-width="1.6" fill="none" stroke-linejoin="miter"/>
<polyline points="502.4,414.6 552.3,420.8 600.8,443.9 650,472.6" stroke="#1e32f5" stroke-width="2.0" fill="none" stroke-linejoin="round"/>
<path d="M502.4 409.6L506 414.6L502.4 419.6L498.8 414.6Z" stroke="#1e32f5" stroke-width="1.6" fill="none" stroke-linejoin="miter"/>
<path d="M552.3 415.8L555.9 420.8L552.3 425.8L548.7 420.8Z" stroke="#1e32f5" stroke-width="1.6" fill="none" stroke-linejoin="miter"/>
<path d="M600.8 438.9L604.4 443.9L600.8 448.9L597.2 443.9Z" stroke="#1e32f5" stroke-width="1.6" fill="none" stroke-linejoin="miter"/>
<path d="M650 467.6L653.6 472.6L650 477.6L646.4 472.6Z" stroke="#1e32f5" stroke-width="1.6" fill="none" stroke-linejoin="miter"/>
<polyline points="502.4,425 552.3,430.9 600.8,454.5 650,486.9" stroke="#b22cf5" stroke-width="2.0" fill="none" stroke-linejoin="round"/>
<path d="M502.4 420L506 425L502.4 430L498.8 425Z" stroke="#b22cf5" stroke-width="1.6" fill="none" stroke-linejoin="miter"/>
<path d="M552.3 425.9L555.9 430.9L552.3 435.9L548.7 430.9Z" stroke="#b22cf5" stroke-width="1.6" fill="none" stroke-linejoin="miter"/>
<path d="M600.8 449.5L604.4 454.5L600.8 459.5L597.2 454.5Z" stroke="#b22cf5" stroke-width="1.6" fill="none" stroke-linejoin="miter"/>
<path d="M650 481.9L653.6 486.9L650 491.9L646.4 486.9Z" stroke="#b22cf5" stroke-width="1.6" fill="none" stroke-linejoin="miter"/>
</g>
<g font-family="'Liberation Serif', serif" fill="#111" text-rendering="geometricPrecision">
<text x="164" y="10" font-size="12.5">(a)</text>
<text x="0" y="288.6" font-size="12.5">(b)</text>
<text x="359.9" y="290.7" font-size="12.5">(c)</text>
</g>
</svg>
</body></html>
